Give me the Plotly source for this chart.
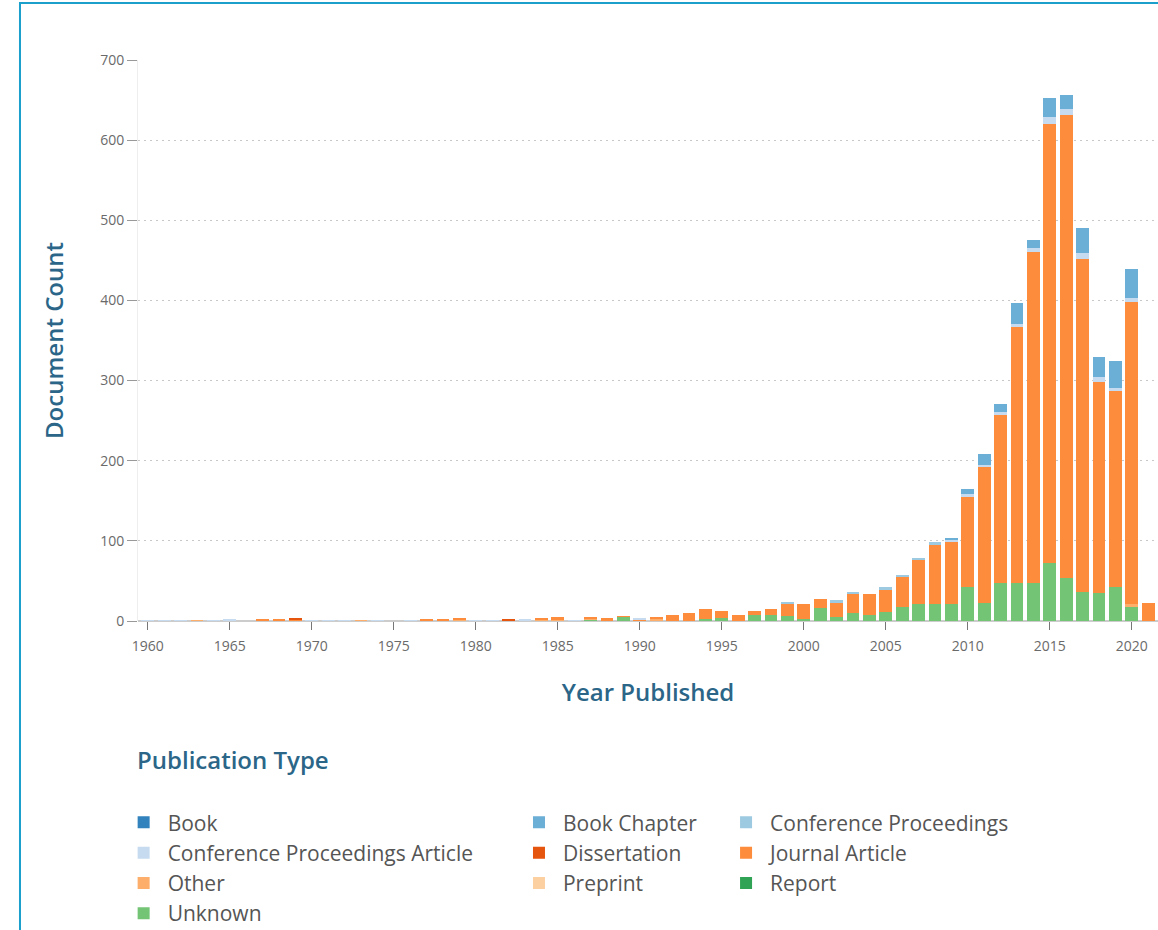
import plotly.graph_objs as go

# Data
years = list(range(1960, 2022))

# one value per year 1960..2021
book = [0] * 62
book_chapter = [0] * 49 + [2, 7, 13, 10, 26, 11, 24, 17, 32, 25, 34, 36, 0]
conf_proceedings = (
    [0] * 39
    + [2, 0, 0, 3, 2, 0, 3, 3, 2, 2, 0]
    + [0] * 12
)
conf_proceedings_article = (
    [1, 1, 1, 0, 1, 1, 0, 0, 0, 0, 1, 1, 1, 0, 1, 0, 1, 0, 0, 0,
     1, 1, 0, 2, 0, 0, 1, 0, 0, 0, 1, 0, 0, 0, 0, 0, 0, 0, 0, 0,
     0, 0, 0, 0, 0, 0, 0, 0, 0, 3, 3, 3, 4, 4, 4, 9, 8, 7, 7, 4,
     5, 0]
)
dissertation = [0] * 9 + [1] + [0] * 12 + [1] + [0] * 39
journal_article = (
    [0, 0, 0, 0, 0, 0, 0, 1, 1, 1, 0, 0, 0, 0, 0, 0, 0, 1, 2, 3,
     0, 0, 0, 0, 2, 4, 0, 1, 4, 1, 1, 3, 7, 10, 12, 9, 8, 5, 7, 16,
     19, 11, 18, 24, 27, 28, 38, 56, 75, 78, 112, 170, 210, 320, 414, 548,
     577, 416, 263, 244, 377, 22]
)
other = (
    [0, 0, 0, 1, 0, 1, 0, 1, 1, 1, 0, 0, 0, 1, 0, 0, 0, 1, 1, 1,
     0, 0, 1, 0, 2, 1, 0, 1, 0, 0, 0, 2, 0, 0, 0, 0, 0, 0, 0, 0,
     0, 0, 0, 0, 0, 0, 0, 0, 0, 0, 0, 0, 0, 0, 0, 0, 0, 0, 0, 0,
     3, 0]
)
preprint = [0] * 62
report = [0] * 62
unknown = (
    [0] * 27
    + [2, 0, 5, 1, 0, 0, 0, 3, 4, 0, 7, 8, 6, 2, 16, 5, 10, 7, 11,
       17, 21, 21, 21, 43, 22, 47, 47, 47, 72, 54, 36, 35, 43, 18, 0]
)

xticks = list(range(1960, 2021, 5))

teal = "#2b6688"
title_font = dict(family="Open Sans", size=24, color=teal, weight=600)
tick_font = dict(family="Open Sans", size=14, color="#6a6a6a")

# stacked bottom-to-top, legend shows it top-to-bottom
series = [
    ("Unknown", unknown, "#74c476", "legend"),
    ("Report", report, "#31a354", "legend3"),
    ("Preprint", preprint, "#fdd0a2", "legend2"),
    ("Other", other, "#fdae6b", "legend"),
    ("Journal Article", journal_article, "#fd8d3c", "legend3"),
    ("Dissertation", dissertation, "#e6550d", "legend2"),
    ("Conference Proceedings Article", conf_proceedings_article, "#c6dbef", "legend"),
    ("Conference Proceedings", conf_proceedings, "#9ecae1", "legend3"),
    ("Book Chapter", book_chapter, "#6baed6", "legend2"),
    ("Book", book, "#3182bd", "legend"),
]


def bar_trace(name, values, color, legend):
    return go.Bar(
        x=years,
        y=values,
        name=name,
        marker=dict(color=color, line=dict(width=0)),
        legend=legend,
    )


fig = go.Figure()
for name, values, color, legend in series:
    fig.add_trace(bar_trace(name, values, color, legend))


def legend_box(x):
    return dict(
        x=x,
        y=-0.323,
        xanchor="left",
        yanchor="top",
        orientation="v",
        traceorder="reversed",
        itemwidth=38,
        bgcolor="rgba(0,0,0,0)",
        font=dict(family="Open Sans", size=21, color="#555555"),
        itemclick=False,
    )


fig.update_layout(
    width=1158,
    height=930,
    barmode="stack",
    bargap=0.22,
    paper_bgcolor="white",
    plot_bgcolor="white",
    margin=dict(l=138, r=0, t=60, b=309, autoexpand=False),
    font=dict(family="Open Sans", color="#555555"),
    legend=legend_box(-0.018),
    legend2=legend_box(0.3696),
    legend3=legend_box(0.5726),
    xaxis=dict(
        range=[1959.4, 2021.6],
        tickvals=xticks,
        ticks="outside",
        ticklen=8,
        tickcolor="#777777",
        tickfont=tick_font,
        ticklabelstandoff=4,
        showgrid=False,
        zeroline=False,
        showline=False,
        title=dict(text="Year Published", font=title_font, standoff=30),
    ),
    yaxis=dict(
        range=[0, 700],
        dtick=100,
        ticks="outside",
        ticklen=10,
        tickcolor="#999999",
        tickfont=tick_font,
        showgrid=True,
        gridcolor="#c8c8c8",
        griddash="2px,4px",
        zeroline=True,
        zerolinecolor="#cccccc",
        showline=True,
        linecolor="#eeeeee",
        title=dict(text="Document Count", font=title_font, standoff=29),
    ),
    annotations=[
        dict(
            text="Publication Type",
            xref="paper",
            yref="paper",
            x=-0.003,
            y=-0.246,
            xanchor="left",
            yanchor="middle",
            showarrow=False,
            font=title_font,
        )
    ],
    shapes=[
        # frame of the card the chart sits in
        dict(
            type="rect",
            xref="paper",
            yref="paper",
            x0=-0.1157,
            x1=1.2,
            y0=-0.8,
            y1=1.1016,
            line=dict(color="#1ba0cc", width=2),
        )
    ],
)

# page has a default 8px body margin; drop it so the chart fills the window
fig.write_html(
    "out.html",
    config={"displayModeBar": False},
    post_script="document.body.style.margin = '0';",
)
